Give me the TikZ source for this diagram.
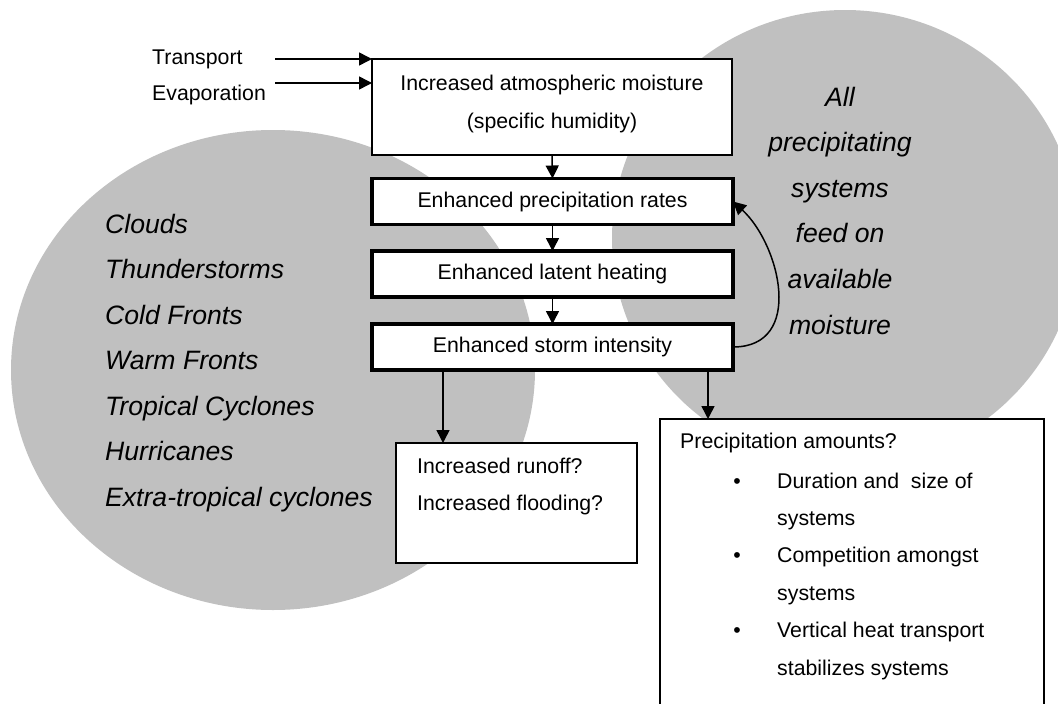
\documentclass[tikz,border=0pt]{standalone}
\usepackage{fontspec}
\setmainfont{Liberation Sans}
\usetikzlibrary{arrows.meta}
\definecolor{cloudgray}{RGB}{192,192,192}
\newcommand\bodyfont{\fontsize{21.3}{25}\selectfont}
\newcommand\sysfont{\fontsize{26.6}{30}\selectfont\itshape}
\tikzset{
  thinbox/.style={draw, line width=1.5pt, fill=white, inner sep=0pt, outer sep=0pt},
  thickbox/.style={draw, line width=3.5pt, fill=white, inner sep=0pt, outer sep=0pt, font=\bodyfont},
  bodytxt/.style={inner sep=0pt, font=\bodyfont},
  systxt/.style={inner sep=0pt, font=\sysfont},
  arr/.style={line width=1.5pt, -{Triangle[length=13pt,width=13pt]}},
  cloud/.style={fill=cloudgray, draw=none},
}
\begin{document}
\begin{tikzpicture}[x=1pt,y=-1pt]
\useasboundingbox (0,0) rectangle (1058,704);
\clip (0,0) rectangle (1058,704);
% background clouds
\fill[cloud] (273,370) ellipse [x radius=262, y radius=240];
\fill[cloud] (845,238) ellipse [x radius=233, y radius=228];
% left list
\foreach \t [count=\i from 0] in {Clouds,Thunderstorms,Cold Fronts,Warm Fronts,Tropical Cyclones,Hurricanes,Extra-tropical cyclones}
  \node[systxt, anchor=base west] (sys\i) at (105,233+45.5*\i) {\t};
% right text
\foreach \t [count=\i from 0] in {All,precipitating,systems,feed on,available,moisture}
  \node[systxt, anchor=base] (all\i) at (840,106+45.6*\i) {\t};
% main chain
\node[thinbox, minimum width=360pt, minimum height=96pt] (b1) at (552,107) {};
\node[bodytxt, anchor=base] (b1a) at (552,90) {Increased atmospheric moisture};
\node[bodytxt, anchor=base] (b1b) at (552,128) {(specific humidity)};
\node[thickbox, minimum width=361pt, minimum height=46pt] (b2) at (552.5,201.5) {Enhanced precipitation rates};
\node[thickbox, minimum width=361pt, minimum height=46pt] (b3) at (552.5,274) {Enhanced latent heating};
\node[thickbox, minimum width=361pt, minimum height=46pt] (b4) at (552.5,347) {Enhanced storm intensity};
% inputs
\node[bodytxt, anchor=base west] (tr) at (152,64) {Transport};
\node[bodytxt, anchor=base west] (ev) at (152,100) {Evaporation};
\coordinate (trs) at (275,59);
\coordinate (evs) at (275,83);
\draw[arr] (trs) -- (trs -| b1.west);
\draw[arr] (evs) -- (evs -| b1.west);
% chain arrows
\draw[arr] (b1.south) -- (b2.north);
\draw[arr] (b2.south) -- (b3.north);
\draw[arr] (b3.south) -- (b4.north);
\draw[arr] (b4.east) .. controls +(72,0) and +(47,43) .. (b2.east);
% outcome boxes
\node[thinbox, minimum width=241pt, minimum height=120pt] (b5) at (516.5,503) {};
\node[bodytxt, anchor=base west] (b5a) at (417,473) {Increased runoff?};
\node[bodytxt, anchor=base west] (b5b) at (417,510) {Increased flooding?};
\node[thinbox, minimum width=384pt, minimum height=300pt] (b6) at (852,569) {};
\node[bodytxt, anchor=base west] (b6t) at (680,448) {Precipitation amounts?};
\foreach \t [count=\i from 0] in {{Duration and\ \ size of},systems,Competition amongst,systems,Vertical heat transport,stabilizes systems}
  \node[bodytxt, anchor=base west] (b6l\i) at (777,488+37.4*\i) {\t};
\foreach \i in {0,2,4}
  \node[bodytxt, anchor=base] (bul\i) at (737,488+37.4*\i) {\textbullet};
\draw[arr] (b4.south west) ++(71,0) coordinate (s1) -- (s1 |- b5.north);
\draw[arr] (b4.south west) ++(336,0) coordinate (s2) -- (s2 |- b6.north);
\end{tikzpicture}
\end{document}
